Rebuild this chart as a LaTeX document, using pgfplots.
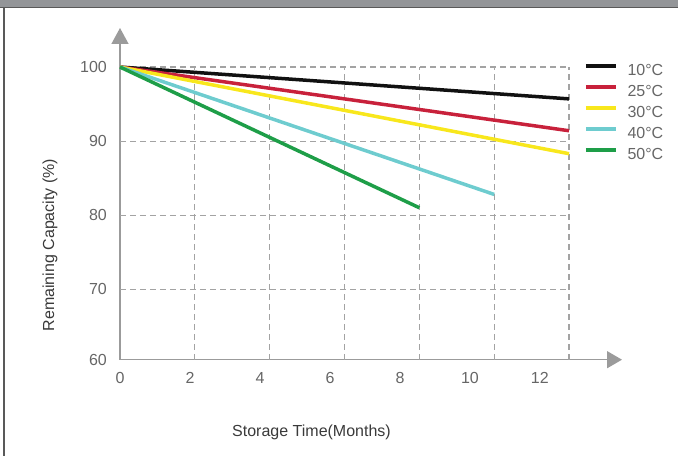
\documentclass[border=0pt]{standalone}
\usepackage{pgfplots}
\pgfplotsset{compat=1.18}
\usetikzlibrary{arrows.meta}
\usepackage{fontspec}
\setmainfont{Liberation Sans}
\definecolor{cA}{HTML}{111111}
\definecolor{cB}{HTML}{C8213B}
\definecolor{cC}{HTML}{F8E71C}
\definecolor{cD}{HTML}{6ECCCF}
\definecolor{cE}{HTML}{1E9E48}
\definecolor{axg}{HTML}{9B9B9B}
\definecolor{gridg}{HTML}{A3A3A3}
\definecolor{tickg}{HTML}{666666}
\definecolor{labg}{HTML}{3A3A3A}
\definecolor{barg}{HTML}{939598}
\newcommand{\fs}{\fontsize{16bp}{19bp}\selectfont}
\begin{document}
\begin{tikzpicture}
\path[use as bounding box] (-120bp,-96.3bp) rectangle (558bp,359.7bp);
\fill[barg] (-120bp,352.7bp) rectangle (558bp,359.7bp);
\draw[black!65, line width=0.8bp] (-120bp,352.7bp) -- (558bp,352.7bp);
\draw[black!65, line width=1.5bp] (-116bp,-96.3bp) -- (-116bp,352.7bp);
\begin{axis}[
  at={(0bp,0bp)}, anchor=south west,
  scale only axis, width=502bp, height=331.7bp,
  xmin=0, xmax=13.415, ymin=60.49, ymax=105.27,
  axis x line=bottom, axis y line=left,
  axis line style={draw=axg, line width=1.5bp},
  x axis line style={-{Triangle[length=15bp,width=17bp]}},
  y axis line style={-{Triangle[length=16bp,width=17bp]}},
  major tick length=0pt,
  xtick={0,1.871,3.741,5.612,7.483,9.353,11.22},
  xticklabels={0,2,4,6,8,10,12},
  ytick={60.49,70,80,90,100},
  yticklabels={60,70,80,90,100},
  /pgf/number format/assume math mode=true,
  tick label style={font=\fs, text=tickg, inner sep=0pt},
  xticklabel style={anchor=center, yshift=-18bp},
  yticklabel style={anchor=east, xshift=-13bp},
  xlabel={Storage Time(Months)},
  ylabel={Remaining Capacity (\%)},
  label style={font=\fs, text=labg},
  xlabel style={at={(rel axis cs:0.3815,-0.218)}, anchor=center},
  ylabel style={at={(rel axis cs:-0.1394,0.3458)}, anchor=center},
  clip=false,
  legend style={draw=none, fill=none, inner sep=0pt, outer sep=0pt,
    at={(rel axis cs:0.9243,0.891)}, anchor=north west,
    font=\fs, text=tickg,
    nodes={inner sep=0pt, text height=11.5bp, text depth=0pt},
    row sep=9.5bp,
    /tikz/every odd column/.append style={column sep=10bp}},
  legend cell align=left,
  legend image code/.code={\draw[#1] (0bp,4bp) -- (30bp,4bp);},
]
\pgfplotsinvokeforeach{2,4,6,8,10,12}{
  \addplot[gridg, line width=1.2bp, dash pattern=on 6bp off 4bp, forget plot] coordinates {(#1,60.49) (#1,100)};
}
\pgfplotsinvokeforeach{70,80,90,100}{
  \addplot[gridg, line width=1.2bp, dash pattern=on 6bp off 4bp, forget plot] coordinates {(0,#1) (12,#1)};
}
\addplot[cA, line width=3.5bp] coordinates {(0,100) (12,95.7)};
\addlegendentry{10°C}
\addplot[cB, line width=3.5bp] coordinates {(0,100) (12,91.4)};
\addlegendentry{25°C}
\addplot[cC, line width=3.5bp] coordinates {(0,100) (12,88.3)};
\addlegendentry{30°C}
\addplot[cD, line width=3.5bp] coordinates {(0,100) (10,82.8)};
\addlegendentry{40°C}
\addplot[cE, line width=3.5bp] coordinates {(0,100) (8,81.0)};
\addlegendentry{50°C}
\end{axis}
\end{tikzpicture}
\end{document}
